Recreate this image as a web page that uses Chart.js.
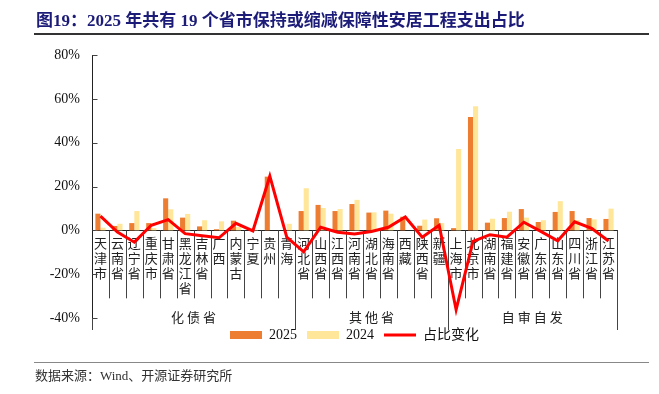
<!DOCTYPE html>
<html>
<head>
<meta charset="utf-8">
<script src="https://cdn.jsdelivr.net/npm/chart.js@4"></script>
<style>
  body { margin: 0; background: #fff; }
  #wrap { position: relative; width: 659px; height: 394px; overflow: hidden; }
  #title {
    position: absolute; left: 36px; top: 11px; white-space: nowrap;
    font: bold 17px/20px "Liberation Serif", "Noto Sans CJK SC";
    color: #1c1c78;
  }
  #titleLine { position: absolute; left: 34px; top: 33px; width: 615px; height: 2px; background: #333; }
  #footLine { position: absolute; left: 34px; top: 362px; width: 615px; height: 1px; background: #888; }
  #foot {
    position: absolute; left: 35px; top: 368px; white-space: nowrap;
    font: 13px/16px "Liberation Serif", "Noto Sans CJK SC"; color: #333;
  }
  canvas { position: absolute; left: 0; top: 0; }
</style>
</head>
<body>
<div id="wrap">
  <canvas id="shareChart" width="659" height="394"></canvas>
  <div id="title">图19：2025 年共有 19 个省市保持或缩减保障性安居工程支出占比</div>
  <div id="titleLine"></div>
  <div id="footLine"></div>
  <div id="foot">数据来源：Wind、开源证券研究所</div>
</div>
<script>
// provinces, grouped
const provinces = [
  "天津市", "云南省", "辽宁省", "重庆市", "甘肃省", "黑龙江省", "吉林省", "广西", "内蒙古", "宁夏", "贵州", "青海",
  "河北省", "山西省", "江西省", "河南省", "湖北省", "海南省", "西藏", "陕西省", "新疆",
  "上海市", "北京市", "湖南省", "福建省", "安徽省", "广东省", "山东省", "四川省", "浙江省", "江苏省",
];
const groupNames = ["化债省", "其他省", "自审自发"];
const groupSizes = [12, 9, 10];

// shares in %
const share2025 = [
  7.6, 2.0, 3.3, 3.3, 14.6, 5.8, 1.8, 0.5, 4.4, 0, 24.5, 0,
  8.8, 11.6, 8.8, 12.0, 8.1, 9.0, 6.2, 2.1, 5.5,
  1.0, 51.7, 3.5, 5.6, 9.7, 3.8, 8.4, 8.8, 5.6, 5.2,
];
const share2024 = [
  1.2, 3.0, 8.8, 1.0, 9.6, 7.5, 4.6, 4.1, 1.5, 0.2, 0, 3.0,
  19.2, 10.2, 9.7, 13.9, 8.2, 7.6, 0, 4.9, 3.3,
  37.1, 56.6, 5.3, 8.5, 5.8, 4.6, 13.3, 4.7, 5.0, 9.9,
];
const shareChange = [
  6.5, -0.8, -5.4, 2.3, 4.9, -1.5, -2.5, -3.4, 3.2, -0.3, 24.7, -3.1,
  -9.8, 1.4, -0.9, -1.7, -0.5, 1.4, 6.1, -3.1, 2.3,
  -36.2, -5.0, -2.0, -3.1, 3.7, -0.5, -4.8, 3.9, 0.9, -4.9,
];
const yTicks = [-40, -20, 0, 20, 40, 60, 80];

const serif = '"Liberation Serif", "Noto Sans CJK SC"';

// separators under the axis, group names, inward y ticks
const groupPlugin = {
  id: "groupPlugin",
  beforeDatasetsDraw(chart) {
    const { ctx, chartArea } = chart;
    const x = chart.scales.x;
    const y = chart.scales.y;
    const zero = y.getPixelForValue(0);
    const groupEnds = [];
    let acc = 0;
    groupSizes.forEach((n) => {
      acc += n;
      groupEnds.push(acc);
    });
    ctx.save();
    ctx.strokeStyle = "#444";
    ctx.lineWidth = 1;
    ctx.beginPath();
    for (let i = 1; i <= provinces.length; i++) {
      let bx;
      if (i === provinces.length) bx = chartArea.right;
      else bx = (x.getPixelForValue(i - 1) + x.getPixelForValue(i)) / 2;
      bx = Math.round(bx) + 0.5;
      const isGroup = groupEnds.includes(i);
      ctx.moveTo(bx, zero);
      ctx.lineTo(bx, isGroup ? chartArea.bottom + 12 : zero + 68);
    }
    // axis line continues below -40%
    const lx = Math.round(chartArea.left) + 0.5;
    ctx.moveTo(lx, chartArea.bottom);
    ctx.lineTo(lx, chartArea.bottom + 12);
    // inward ticks
    yTicks.forEach((v) => {
      const ty = Math.round(y.getPixelForValue(v)) + 0.5;
      ctx.moveTo(lx, ty);
      ctx.lineTo(lx + 5, ty);
    });
    ctx.stroke();

    ctx.fillStyle = "#222";
    ctx.font = '13px "Noto Sans CJK SC"';
    ctx.letterSpacing = "3px";
    ctx.textAlign = "center";
    ctx.textBaseline = "middle";
    let start = 0;
    groupSizes.forEach((n, g) => {
      const left = start === 0 ? chartArea.left : (x.getPixelForValue(start - 1) + x.getPixelForValue(start)) / 2;
      const end = start + n;
      const right = end === provinces.length ? chartArea.right : (x.getPixelForValue(end - 1) + x.getPixelForValue(end)) / 2;
      ctx.fillText(groupNames[g], (left + right) / 2 + 1.5, chartArea.bottom - 1);
      start = end;
    });
    ctx.restore();
  },
};

function drawShareChart() {
  const chart = document.getElementById("shareChart");
  const data = {
    labels: provinces.map((p) => Array.from(p)),
    datasets: [
      {
        type: "bar",
        label: "2025",
        data: share2025,
        backgroundColor: "#ED7D31",
        borderWidth: 0,
        categoryPercentage: 0.6,
        barPercentage: 1,
        pointStyle: "rect",
        order: 1,
      },
      {
        type: "bar",
        label: "2024",
        data: share2024,
        backgroundColor: "#FFE699",
        borderWidth: 0,
        categoryPercentage: 0.6,
        barPercentage: 1,
        pointStyle: "rect",
        order: 2,
      },
      {
        type: "line",
        label: "占比变化",
        data: shareChange,
        borderColor: "#FF0000",
        backgroundColor: "#FF0000",
        borderWidth: 3,
        pointRadius: 0,
        tension: 0,
        pointStyle: "line",
        order: 0,
      },
    ],
  };
  const config = {
    data: data,
    plugins: [groupPlugin],
    options: {
      responsive: false,
      animation: false,
      layout: { padding: { top: 55, right: 42, bottom: 42, left: 0 } },
      plugins: {
        tooltip: { enabled: false },
        legend: {
          position: "bottom",
          fullSize: false,
          labels: {
            usePointStyle: true,
            pointStyleWidth: 32,
            boxHeight: 8,
            padding: 10,
            color: "#111",
            font: { family: serif, size: 14 },
            sort: (a, b) => a.datasetIndex - b.datasetIndex,
          },
        },
      },
      scales: {
        x: {
          type: "category",
          position: { y: 0 },
          grid: { drawOnChartArea: false, drawTicks: false },
          border: { display: true, color: "#222", width: 1 },
          ticks: {
            autoSkip: false,
            maxRotation: 0,
            minRotation: 0,
            padding: 5,
            color: "#222",
            font: { family: '"Noto Sans CJK SC"', size: 13, lineHeight: 1.15 },
          },
        },
        y: {
          min: -40,
          max: 80,
          afterFit: (scale) => {
            scale.width = 92;
          },
          afterBuildTicks: (scale) => {
            scale.ticks = yTicks.map((v) => ({ value: v }));
          },
          grid: { display: false, drawTicks: false },
          border: { display: true, color: "#222", width: 1 },
          ticks: {
            padding: 12,
            color: "#111",
            font: { family: serif, size: 14 },
            callback: (v) => v + "%",
          },
        },
      },
    },
  };
  return new Chart(chart, config);
}

drawShareChart();
</script>
</body>
</html>
